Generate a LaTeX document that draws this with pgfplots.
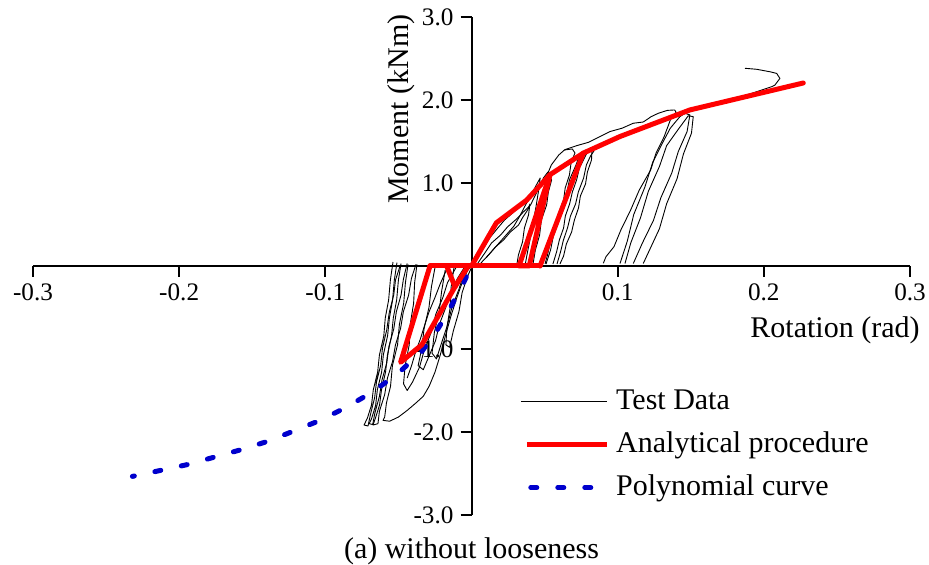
\documentclass[border=0pt]{standalone}
\usepackage{fontspec}
\setmainfont{Liberation Serif}
\usepackage{pgfplots}
\pgfplotsset{compat=1.18}
\definecolor{anared}{RGB}{255,0,0}
\definecolor{polyblue}{RGB}{0,0,205}
\begin{document}
\begin{tikzpicture}
\useasboundingbox (0,0) rectangle (464.5pt,282.5pt);
\begin{axis}[
  at={(16.5pt,25pt)}, anchor=south west,
  scale only axis, width=438.5pt, height=249pt,
  xmin=-0.3, xmax=0.3, ymin=-3, ymax=3,
  axis lines=middle,
  axis line style={-, line width=1pt},
  tick style={line width=1pt, black},
  tick align=outside, major tick length=5.5pt,
  xtick={-0.3,-0.2,-0.1,0.1,0.2,0.3},
  xticklabels={-0.3,-0.2,-0.1,0.1,0.2,0.3},
  ytick={-3,-2,-1,1,2,3},
  yticklabels={-3.0,-2.0,-1.0,1.0,2.0,3.0},
  ticklabel style={font=\fontsize{12.6}{14}\selectfont},
  xlabel={Rotation (rad)},
  xlabel style={at={(axis cs:0.2487,-0.77)}, anchor=center, font=\fontsize{15}{18}\selectfont},
  ylabel={Moment (kNm)},
  ylabel style={at={(axis cs:-0.048,1.89)}, anchor=center, rotate=90, font=\fontsize{15}{18}\selectfont},
  title={(a) without looseness},
  title style={at={(axis cs:0,-3.58)}, anchor=center, font=\fontsize{15}{18}\selectfont},
  legend cell align=left,
  legend style={at={(axis cs:0.029,-1.37)}, anchor=north west, draw=none, fill=none,
    font=\fontsize{15}{18}\selectfont, row sep=4pt,
    nodes={inner sep=1.5pt, text height=11pt, text depth=3.5pt}},
]
\addlegendimage{legend image code/.code={\draw[black,line width=0.5pt] (0pt,0pt) -- (43pt,0pt); \path (46pt,0pt);}}
\addlegendentry{Test Data}
\addlegendimage{legend image code/.code={\draw[anared,line width=2.5pt] (3pt,0pt) -- (43pt,0pt); \path (46pt,0pt);}}
\addlegendentry{Analytical procedure}
\addlegendimage{legend image code/.code={\draw[polyblue,line width=2.5pt,line cap=round,dash pattern=on 3pt off 10.5pt] (5pt,0pt) -- (37pt,0pt); \path (46pt,0pt);}}
\addlegendentry{Polynomial curve}

% ---------------- Test data (black) ----------------
\pgfplotsset{testdata/.style={black, line width=0.45pt, line join=round, forget plot}}
\addplot[testdata] coordinates {(0.0024,0.048) (0.0075,0.193) (0.0124,0.337) (0.0180,0.458) (0.0226,0.554) (0.0290,0.651) (0.0340,0.747) (0.0405,0.831) (0.0450,0.940) (0.0515,1.084) (0.0546,1.217) (0.0597,1.337) (0.0636,1.398) (0.0690,1.410) (0.0708,1.361) (0.0682,1.253) (0.0670,1.096) (0.0641,0.940) (0.0630,0.795) (0.0594,0.627) (0.0575,0.458) (0.0540,0.289) (0.0520,0.133) (0.0503,0.024)};
\addplot[testdata] coordinates {(0.0044,0.036) (0.0096,0.169) (0.0137,0.277) (0.0199,0.373) (0.0246,0.470) (0.0308,0.566) (0.0355,0.651) (0.0404,0.735) (0.0437,0.855) (0.0473,0.976) (0.0492,1.060) (0.0523,1.133) (0.0548,1.036) (0.0526,0.892) (0.0514,0.735) (0.0478,0.554) (0.0466,0.373) (0.0437,0.193) (0.0421,0.024)};
\addplot[testdata] coordinates {(0.0058,0.024) (0.0117,0.133) (0.0164,0.229) (0.0219,0.313) (0.0266,0.410) (0.0322,0.494) (0.0348,0.578) (0.0384,0.675) (0.0400,0.747) (0.0390,0.614) (0.0362,0.458) (0.0349,0.289) (0.0321,0.133) (0.0311,0.024)};
\addplot[testdata] coordinates {(0.0100,0.10) (0.0160,0.22) (0.0230,0.36) (0.0290,0.48) (0.0330,0.60) (0.0365,0.72) (0.0410,0.86) (0.0445,0.98) (0.0470,1.06) (0.0458,0.90) (0.0440,0.70) (0.0418,0.50) (0.0398,0.30) (0.0378,0.12) (0.0368,0.02)};
\addplot[testdata] coordinates {(0.0557,0.024) (0.0582,0.169) (0.0601,0.313) (0.0630,0.458) (0.0642,0.602) (0.0671,0.747) (0.0690,0.892) (0.0719,1.036) (0.0738,1.181) (0.0773,1.301) (0.0793,1.373) (0.0824,1.398) (0.0821,1.277) (0.0793,1.133) (0.0780,0.988) (0.0745,0.843) (0.0732,0.699) (0.0704,0.554) (0.0685,0.410) (0.0649,0.265) (0.0630,0.120) (0.0605,0.024)};
\addplot[testdata] coordinates {(0.0510,0.024) (0.0541,0.193) (0.0560,0.361) (0.0596,0.530) (0.0615,0.699) (0.0650,0.867) (0.0670,1.036) (0.0712,1.205) (0.0738,1.325) (0.0783,1.398)};
\addplot[testdata] coordinates {(0.0585,0.024) (0.0609,0.169) (0.0629,0.313) (0.0657,0.458) (0.0677,0.602) (0.0712,0.747) (0.0731,0.892) (0.0767,1.060) (0.0786,1.217) (0.0814,1.325) (0.0838,1.386)};
\addplot[testdata] coordinates {(0.0636,1.40) (0.0720,1.45) (0.0800,1.49) (0.0880,1.56) (0.0948,1.62) (0.1030,1.66) (0.1107,1.72) (0.1175,1.735) (0.1230,1.80) (0.1278,1.84) (0.1340,1.875) (0.1390,1.88) (0.1400,1.85) (0.1369,1.80) (0.1318,1.558) (0.1262,1.358) (0.1226,1.157) (0.1148,0.916) (0.1089,0.675) (0.1022,0.434) (0.0975,0.233) (0.0920,0.112) (0.0902,0.033)};
\addplot[testdata] coordinates {(0.1016,0.03) (0.1066,0.30) (0.1110,0.62) (0.1186,0.95) (0.1240,1.25) (0.1306,1.48) (0.1360,1.66) (0.1426,1.80) (0.1460,1.84) (0.1494,1.82) (0.1475,1.62) (0.1415,1.38) (0.1370,1.12) (0.1295,0.82) (0.1245,0.55) (0.1170,0.28) (0.1107,0.03)};
\addplot[testdata] coordinates {(0.1050,0.03) (0.1090,0.28) (0.1156,0.58) (0.1210,0.90) (0.1286,1.20) (0.1335,1.45) (0.1416,1.65) (0.1483,1.81) (0.1517,1.80) (0.1505,1.60) (0.1450,1.35) (0.1406,1.05) (0.1335,0.75) (0.1286,0.45) (0.1220,0.20) (0.1175,0.03)};
\addplot[testdata] coordinates {(0.1494,1.88) (0.1700,1.975) (0.1900,2.07) (0.2053,2.16) (0.2076,2.18) (0.2110,2.26) (0.2088,2.32) (0.2042,2.34) (0.1951,2.37) (0.1871,2.382)};
\addplot[testdata] coordinates {(-0.0537,0.048) (-0.0555,-0.169) (-0.0567,-0.410) (-0.0590,-0.627) (-0.0600,-0.843) (-0.0630,-1.072) (-0.0642,-1.277) (-0.0672,-1.494) (-0.0684,-1.675) (-0.0712,-1.831) (-0.0735,-1.916) (-0.0708,-1.928) (-0.0692,-1.795) (-0.0663,-1.590) (-0.0650,-1.398) (-0.0621,-1.193) (-0.0609,-0.988) (-0.0580,-0.771) (-0.0562,-0.554) (-0.0532,-0.349) (-0.0520,-0.169) (-0.0489,0.0)};
\addplot[testdata] coordinates {(-0.0510,0.04) (-0.0528,-0.17) (-0.0540,-0.41) (-0.0562,-0.63) (-0.0574,-0.84) (-0.0603,-1.07) (-0.0615,-1.28) (-0.0644,-1.49) (-0.0656,-1.68) (-0.0684,-1.84) (-0.0700,-1.90) (-0.0676,-1.91) (-0.0662,-1.78) (-0.0630,-1.57) (-0.0612,-1.37) (-0.0580,-1.17) (-0.0565,-0.97) (-0.0532,-0.76) (-0.0514,-0.55) (-0.0482,-0.35) (-0.0466,-0.16) (-0.0440,0.03)};
\addplot[testdata] coordinates {(-0.0482,0.03) (-0.0500,-0.169) (-0.0512,-0.410) (-0.0535,-0.627) (-0.0547,-0.843) (-0.0575,-1.072) (-0.0588,-1.277) (-0.0616,-1.494) (-0.0629,-1.675) (-0.0657,-1.831) (-0.0674,-1.916) (-0.0640,-1.90) (-0.0630,-1.75) (-0.0594,-1.55) (-0.0575,-1.35) (-0.0540,-1.15) (-0.0520,-0.95) (-0.0485,-0.75) (-0.0466,-0.55) (-0.0430,-0.35) (-0.0411,-0.15) (-0.0380,0.02)};
\addplot[testdata] coordinates {(-0.0434,0.02) (-0.0452,-0.2) (-0.0464,-0.45) (-0.0493,-0.70) (-0.0506,-0.95) (-0.0541,-1.2) (-0.0554,-1.45) (-0.0582,-1.65) (-0.0594,-1.82) (-0.0605,-1.86) (-0.0560,-1.87) (-0.0500,-1.82) (-0.0440,-1.74) (-0.0380,-1.65) (-0.0330,-1.57) (-0.0290,-1.45) (-0.0250,-1.28) (-0.0215,-1.08) (-0.0180,-0.85) (-0.0140,-0.60) (-0.0100,-0.38) (-0.0060,-0.18) (-0.0020,-0.03)};
\addplot[testdata] coordinates {(-0.0373,0.02) (-0.0389,-0.2) (-0.0396,-0.45) (-0.0419,-0.7) (-0.0426,-0.95) (-0.0454,-1.2) (-0.0465,-1.42) (-0.0440,-1.5) (-0.0404,-1.40) (-0.0356,-1.22) (-0.0324,-1.02) (-0.0276,-0.80) (-0.0244,-0.58) (-0.0196,-0.38) (-0.0164,-0.20) (-0.0116,-0.05) (-0.0100,0.0)};
\addplot[testdata] coordinates {(-0.0440,-1.35) (-0.0410,-1.20) (-0.0385,-1.05) (-0.0350,-0.88) (-0.0318,-0.70) (-0.0290,-0.55) (-0.0250,-0.38) (-0.0215,-0.22) (-0.0180,-0.08) (-0.0150,0.02)};
\addplot[testdata] coordinates {(-0.0250,-0.02) (-0.0274,-0.25) (-0.0291,-0.50) (-0.0324,-0.75) (-0.0341,-1.0) (-0.0365,-1.2) (-0.0330,-1.25) (-0.0294,-1.10) (-0.0246,-0.90) (-0.0219,-0.70) (-0.0176,-0.50) (-0.0144,-0.32) (-0.0096,-0.15) (-0.0050,-0.02)};
\addplot[testdata] coordinates {(-0.0180,-0.05) (-0.0204,-0.3) (-0.0221,-0.55) (-0.0254,-0.80) (-0.0270,-1.05) (-0.0240,-1.12) (-0.0209,-0.95) (-0.0166,-0.72) (-0.0134,-0.50) (-0.0086,-0.28) (-0.0054,-0.10) (0.0,0.0)};
\addplot[testdata] coordinates {(-0.0120,-0.02) (-0.0139,-0.25) (-0.0146,-0.50) (-0.0169,-0.75) (-0.0175,-0.95) (-0.0150,-0.98) (-0.0124,-0.78) (-0.0086,-0.55) (-0.0064,-0.32) (-0.0026,-0.12) (0.0010,0.02)};

% ---------------- Polynomial curve (blue dashed) ----------------
\addplot[polyblue, line width=2.5pt, line cap=round, dash pattern=on 3pt off 10.5pt, forget plot] coordinates {(-0.0035,-0.13) (-0.0056,-0.21) (-0.0147,-0.51) (-0.0234,-0.77) (-0.0340,-1.03) (-0.0500,-1.29) (-0.0670,-1.51) (-0.0854,-1.70) (-0.1036,-1.86) (-0.1219,-1.99) (-0.1390,-2.11) (-0.1570,-2.21) (-0.1754,-2.30) (-0.1937,-2.39) (-0.2120,-2.46) (-0.2320,-2.535)};

% ---------------- Analytical procedure (red) ----------------
\pgfplotsset{analytic/.style={anared, line width=2.5pt, line join=round, line cap=round, forget plot}}
\addplot[analytic] coordinates {(0,0) (0.0170,0.52) (0.0378,0.795) (0.0537,1.10) (0.0765,1.36) (0.1016,1.56) (0.1494,1.88) (0.2270,2.205)};
\addplot[analytic] coordinates {(0.0537,1.10) (0.0325,0.0) (0.0395,0.0) (0.0537,1.10)};
\addplot[analytic] coordinates {(0.0765,1.36) (0.0469,0.0)};
\addplot[analytic] coordinates {(-0.0284,0.0) (0.0469,0.0)};
\addplot[analytic] coordinates {(-0.0284,0.0) (-0.0485,-1.16) (-0.0340,-0.95) (-0.0113,-0.25) (-0.0022,0.0)};
\addplot[analytic] coordinates {(-0.0170,0.0) (-0.0113,-0.25)};
\end{axis}
\end{tikzpicture}
\end{document}
